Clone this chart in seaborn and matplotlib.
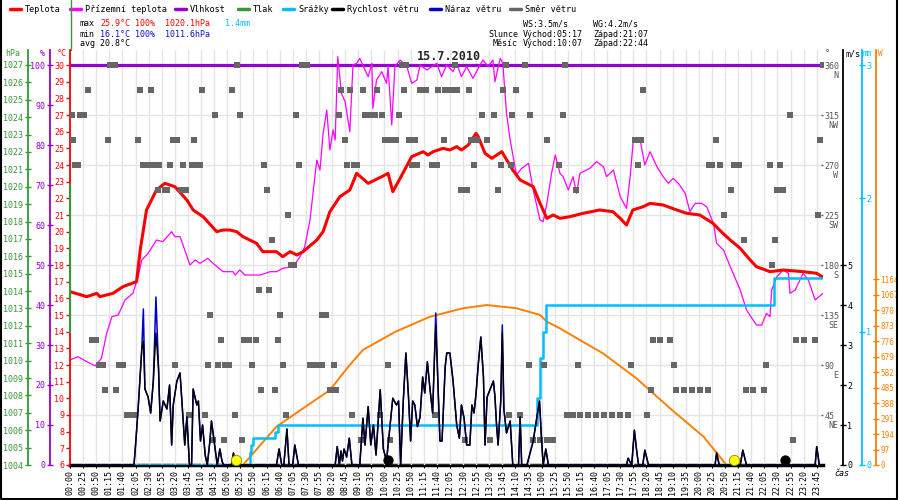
import numpy as np
import pandas as pd
import matplotlib
matplotlib.use("Agg")
import matplotlib.pyplot as plt
from matplotlib.lines import Line2D
import seaborn as sns

# ---- data (time in minutes after midnight) ----
temp_t = [0, 32, 51, 57, 82, 101, 127, 134, 146, 165, 181, 200, 223, 235, 254, 280, 292, 305, 318,
          330, 356, 368, 394, 406, 420, 433, 445, 471, 483, 496, 515, 534, 547, 569, 595, 607, 616,
          630, 652, 674, 683, 693, 712, 725, 738, 747, 760, 775, 779, 792, 805, 824, 845, 859, 884,
          897, 910, 922, 935, 954, 979, 1011, 1036, 1050, 1062, 1074, 1094, 1107, 1132, 1158, 1177,
          1202, 1227, 1246, 1260, 1279, 1298, 1310, 1336, 1361, 1399, 1425, 1435]
temp_v = [16.4, 16.1, 16.3, 16.1, 16.3, 16.7, 17.0, 18.9, 21.3, 22.5, 22.9, 22.7, 21.9, 21.3, 20.9,
          20.0, 20.1, 20.1, 20.0, 19.7, 19.3, 18.8, 18.8, 18.5, 18.8, 18.6, 18.8, 19.5, 20.0, 21.2,
          22.1, 22.5, 23.5, 22.9, 23.3, 23.5, 22.4, 23.2, 24.5, 24.8, 24.6, 24.8, 25.0, 24.9, 25.1,
          24.9, 25.2, 25.9, 25.7, 24.7, 24.4, 24.8, 23.7, 23.1, 22.7, 21.7, 20.8, 21.0, 20.8, 20.9,
          21.1, 21.3, 21.2, 20.8, 20.4, 21.3, 21.5, 21.7, 21.6, 21.3, 21.1, 21.0, 20.5, 19.9, 19.5,
          19.0, 18.3, 17.9, 17.6, 17.7, 17.6, 17.5, 17.3]

ground_t = [0, 15, 38, 48, 60, 70, 80, 92, 105, 120, 130, 137, 149, 165, 177, 194, 200, 210, 219, 229,
            239, 248, 263, 273, 292, 311, 315, 324, 334, 363, 382, 394, 406, 426, 439, 448, 458, 471,
            477, 483, 490, 496, 502, 506, 511, 518, 525, 534, 540, 547, 553, 560, 569, 576, 578, 585,
            595, 604, 607, 614, 620, 630, 643, 652, 662, 668, 681, 690, 700, 709, 719, 731, 738, 747,
            757, 769, 779, 788, 798, 807, 811, 821, 826, 833, 840, 852, 862, 875, 884, 897, 903, 910,
            919, 926, 935, 941, 951, 960, 967, 973, 992, 1005, 1018, 1024, 1037, 1050, 1062, 1069,
            1075, 1081, 1088, 1097, 1107, 1120, 1132, 1142, 1151, 1161, 1174, 1183, 1193, 1205, 1215,
            1228, 1234, 1247, 1260, 1279, 1291, 1310, 1320, 1329, 1336, 1339, 1349, 1361, 1371, 1374,
            1384, 1399, 1409, 1422, 1437]
ground_v = [12.3, 12.5, 12.1, 11.95, 12.4, 13.9, 14.9, 15.0, 15.9, 16.3, 17.3, 18.3, 18.7, 19.5, 19.4,
            20.0, 19.7, 19.7, 18.9, 18.0, 18.3, 18.1, 18.4, 18.1, 17.6, 17.6, 17.4, 17.7, 17.4, 17.4,
            17.6, 17.6, 17.8, 17.9, 18.5, 19.1, 20.7, 24.3, 23.7, 25.9, 27.3, 24.9, 26.1, 25.5, 30.5,
            28.3, 27.8, 26.0, 30.0, 30.1, 30.4, 29.9, 29.3, 30.1, 27.4, 29.1, 29.6, 28.9, 29.9, 26.4,
            29.9, 30.3, 29.9, 28.9, 29.1, 30.0, 29.7, 29.9, 30.1, 29.3, 30.0, 29.6, 30.1, 29.3, 29.9,
            29.2, 29.8, 30.3, 29.9, 30.3, 29.0, 30.4, 30.1, 27.1, 25.5, 23.4, 23.8, 24.1, 22.5, 20.7,
            20.6, 21.7, 23.5, 24.6, 23.5, 23.3, 22.5, 23.3, 22.3, 23.5, 23.8, 24.2, 23.9, 23.3, 23.7,
            22.1, 21.4, 23.3, 25.5, 25.4, 25.5, 24.0, 24.8, 23.9, 23.3, 22.9, 23.2, 22.9, 22.3, 21.2,
            21.7, 21.7, 21.5, 20.5, 19.3, 18.9, 17.9, 16.5, 15.3, 14.4, 14.4, 15.1, 14.9, 16.5, 17.3,
            17.7, 17.5, 16.3, 16.5, 17.5, 17.1, 15.9, 16.3]

humidity_t = [0, 1437]
humidity_v = [100, 100]

pressure_t = [0, 0]
pressure_v = [1011.6, 1020.1]

rain_t = [124, 343, 346, 349, 391, 396, 891, 897, 903, 908, 1344, 1437]
rain_v = [0.0, 0.1, 0.15, 0.2, 0.25, 0.3, 0.5, 0.8, 1.0, 1.2, 1.4, 1.4]

solar_t = [330, 394, 445, 496, 531, 559, 621, 687, 750, 795, 852, 897, 910, 935, 973, 1017, 1081,
           1145, 1209, 1253]
solar_v = [0, 240, 355, 469, 615, 720, 834, 928, 981, 1001, 981, 939, 897, 855, 782, 699, 542, 355,
           177, 0]

wind_t = [0, 114, 122, 124, 130, 137, 140, 143, 149, 154, 159, 164, 169, 172, 178, 185, 190, 194, 197,
          204, 210, 213, 219, 223, 228, 232, 235, 242, 245, 249, 253, 258, 262, 267, 270, 275, 279,
          281, 286, 290, 293, 308, 312, 315, 394, 399, 404, 408, 414, 418, 425, 429, 436, 506, 510,
          514, 517, 520, 523, 528, 533, 538, 553, 559, 563, 569, 574, 579, 584, 592, 598, 604, 611,
          616, 623, 627, 631, 636, 641, 646, 650, 654, 658, 663, 668, 673, 677, 682, 687, 692, 695,
          698, 702, 706, 710, 716, 719, 725, 731, 738, 743, 747, 752, 757, 763, 767, 771, 775, 779,
          784, 789, 792, 796, 802, 808, 811, 814, 817, 822, 825, 828, 833, 840, 845, 856, 859, 862,
          872, 878, 884, 891, 896, 900, 903, 908, 913, 1062, 1065, 1072, 1077, 1081, 1085, 1093,
          1097, 1104, 1231, 1234, 1239, 1279, 1284, 1291, 1422, 1425, 1430, 1437]
wind_v = [0, 0, 0, 0.3, 1.4, 2.9, 3.1, 1.9, 1.7, 1.3, 2.1, 3.3, 2.4, 1.1, 1.6, 1.4, 2.0, 0.5, 1.5,
          2.1, 2.3, 1.7, 0.5, 1.2, 0, 0, 1.9, 1.5, 1.6, 0.6, 1.0, 0.25, 0, 0.6, 1.1, 0.6, 0.2,
          0, 0.4, 0.1, 0, 0, 0.3, 0, 0, 0.4, 0, 0, 0.9, 0, 0, 0.5, 0, 0, 0.46,
          0, 0.35, 0.1, 0.4, 0.2, 0.67, 0, 0, 1.17, 0.5, 1.46, 0.5, 1.0, 0.25, 1.88, 0.4, 0.1, 1.0,
          1.67, 1.5, 1.6, 0, 1.6, 2.8, 1.7, 0.6, 1.6, 1.5, 0.96, 1.2, 2.2, 1.8, 2.58, 1.9, 1.3, 2.5,
          3.5, 2.1, 0.6, 0.6, 2.46, 2.8, 2.8, 2.1, 1.0, 0.67, 1.5, 1.17, 0.5, 0.5, 1.5, 1.3, 1.8, 2.5,
          3.2, 2.2, 0.5, 1.7, 1.9, 2.1, 1.7, 1.0, 0.5, 1.6, 3.3, 1.4, 0.8, 1.1, 0, 0, 1.2, 0,
          0, 0.3, 0.6, 1.2, 1.6, 0.6, 0, 0.4, 0, 0, 0.17, 0, 0.87, 0.4, 0, 0,
          0.37, 0, 0, 0.3, 0, 0, 0.37, 0, 0, 0.46, 0, 0]

# gust readings that stand above the mean wind
gust_peak_t = [140, 164, 698, 825]
gust_peak_v = [3.9, 4.2, 3.8, 3.5]

dir_t = [76, 86, 318, 442, 452, 633, 642, 735, 832, 868, 945, 1437,
         35, 134, 154, 252, 309, 518, 534, 560, 586, 637, 668, 680, 703, 716, 728, 739, 761, 826, 852, 1093,
         3, 20, 27, 277, 324, 431, 513, 563, 573, 582, 595, 628, 787, 809, 843, 878, 941, 1374,
         6, 73, 130, 196, 205, 237, 525, 601, 612, 622, 647, 658, 714, 766, 776, 795, 911, 1078, 1089, 1232, 1432,
         10, 16, 140, 148, 160, 170, 191, 216, 233, 242, 248, 370, 437, 528, 542, 548, 653, 663, 691, 700,
         771, 822, 841, 934, 1084, 1220, 1226, 1240, 1268, 1277, 1336, 1355,
         167, 181, 186, 211, 221, 376, 747, 757, 816, 965, 1261, 1350, 1360,
         416, 1249, 1427,
         385, 1286, 1345,
         421, 427, 1339,
         361, 380,
         267, 401, 481, 488,
         42, 50, 288, 333, 341, 355, 397, 1113, 1126, 1145, 1386, 1400, 1422,
         55, 63, 94, 102, 201, 263, 282, 296, 304, 347, 406, 458, 466, 474, 480, 504, 607, 875, 904, 970,
         1070, 1152, 1329,
         67, 88, 364, 391, 496, 508, 1109, 1157, 1172, 1187, 1202, 1218, 1291, 1304, 1325,
         108, 116, 123, 227, 258, 315, 412, 539, 592, 696, 838, 859, 948, 959, 973, 988, 1003, 1019,
         1034, 1049, 1065, 1102,
         272, 294, 329, 555, 611, 754, 801, 884, 897, 910, 922, 1380]
dir_deg = ([360] * 12 + [337.5] * 20 + [315] * 18 + [292.5] * 21 + [270] * 32 + [247.5] * 13
           + [225] * 3 + [202.5] * 3 + [180] * 3 + [157.5] * 2 + [135] * 4 + [112.5] * 13
           + [90] * 23 + [67.5] * 15 + [45] * 22 + [22.5] * 12)

sun_t = [317, 1267]     # Slunce východ / západ
moon_t = [607, 1364]    # Měsíc východ / západ

time_ticks = list(range(0, 1436, 25))
time_labels = [f"{t // 60:02d}:{t % 60:02d}" for t in time_ticks]

# ---- colours ----
C_TEMP = "#ff0000"
C_GROUND = "#ff00ff"
C_HUM = "#9400d3"
C_PRESS = "#339933"
C_RAIN = "#00bfff"
C_WIND = "#000000"
C_GUST = "#0000cc"
C_DIR = "#666666"
C_SOLAR = "#ff8000"

sns.set_theme(style="white")
plt.rcParams['font.family'] = ['DejaVu Sans Mono', 'DejaVu Sans']
FS = 6

W, H = 900, 500
fig = plt.figure(figsize=(9, 5), dpi=100)


def fx(px):
    return px / W


def fy(py):
    return 1 - py / H


L, R, T, B = 70, 823, 50, 465
XMAX = 1437
base = fig.add_axes([fx(L), fy(B), fx(R - L), (B - T) / H])
base.set_xlim(0, XMAX)
base.set_ylim(0, (B - T) / 50)
base.set_yticks(range(0, 9))
base.set_yticklabels([])
base.set_xticks(time_ticks)
base.set_xticklabels(time_labels, rotation=90, fontsize=FS)
base.tick_params(axis='x', bottom=True, length=2, width=0.8, pad=1.5, colors='black')
base.tick_params(axis='y', left=False, right=False, length=0)
base.grid(True, color='#e4e4e4', lw=1)
for s in ['left', 'right', 'top']:
    base.spines[s].set_visible(False)
base.spines['bottom'].set_color('black')
base.spines['bottom'].set_linewidth(2.5)
base.spines['bottom'].set_zorder(0)


def make_axis(side, pos, color, lim, ticks, direction='inout', length=5, spine=True, lcolor=None,
              fs=FS, pad=1):
    a = base.twinx()
    a.set_ylim(*lim)
    a.grid(False)
    for s in a.spines.values():
        s.set_visible(False)
    if side == 'left':
        a.yaxis.tick_left()
        a.tick_params(axis='y', left=True, right=False, labelleft=True, labelright=False)
    else:
        a.yaxis.tick_right()
        a.tick_params(axis='y', left=False, right=True, labelleft=False, labelright=True)
    a.spines[side].set_position(('axes', pos))
    a.spines[side].set_visible(spine)
    a.spines[side].set_color(color)
    a.spines[side].set_linewidth(1.3)
    a.set_yticks(ticks)
    a.tick_params(axis='y', direction=direction, length=length, width=1, pad=pad,
                  labelsize=fs, color=color, labelcolor=lcolor or color)
    return a


span = R - L
ax_hum = make_axis('left', (50 - L) / span, C_HUM, (0, 100 + 15 * 100 / 400), range(0, 101, 10))
ax_temp = make_axis('left', 0, C_TEMP, (6, 30 + 15 * 24 / 400), range(6, 31), direction='out', length=3)
ax_press = make_axis('left', (28 - L) / span, C_PRESS, (1004, 1027 + 15 * 23 / 400), range(1004, 1028))
ax_sol = make_axis('right', (876 - L) / span, C_SOLAR, (0, 1164 * 415 / 186), range(0, 1165, 97),
                   fs=5.5, pad=0.5)
ax_mm = make_axis('right', (862 - L) / span, C_RAIN, (0, 3 + 15 * 3 / 400), range(0, 4), pad=0.5)
ax_deg = make_axis('right', 1.0, C_DIR, (0, 360 + 15 * 360 / 400), range(45, 361, 45),
                   direction='in', length=1.5, spine=False, lcolor='#555555')
ax_ms = make_axis('right', (843 - L) / span, C_WIND, (0, 10 + 15 * 10 / 400), range(0, 6), pad=0.5)

# ---- series ----
sns.lineplot(x=humidity_t, y=humidity_v, ax=ax_hum, color=C_HUM, lw=2.3)
sns.lineplot(x=ground_t, y=ground_v, ax=ax_temp, color=C_GROUND, lw=0.9, estimator=None)
sns.lineplot(x=temp_t, y=temp_v, ax=ax_temp, color=C_TEMP, lw=2.2, estimator=None)
sns.lineplot(x=pressure_t, y=pressure_v, ax=ax_press, color=C_PRESS, lw=1.5,
             estimator=None, sort=False, clip_on=False)
sns.lineplot(x=solar_t, y=solar_v, ax=ax_sol, color=C_SOLAR, lw=1.4, estimator=None)
sns.lineplot(x=rain_t, y=rain_v, ax=ax_mm, color=C_RAIN, lw=1.8, estimator=None,
             drawstyle='steps-post')
sns.scatterplot(x=dir_t, y=dir_deg, ax=ax_deg, color=C_DIR, linewidth=0, s=20,
                marker=[(-3, -2.5), (3, -2.5), (3, 2.5), (-3, 2.5)])

gust = pd.Series(wind_v, index=wind_t, dtype=float)
gust.loc[gust_peak_t] = gust_peak_v
sns.lineplot(x=gust.index, y=gust.values, ax=ax_ms, color=C_GUST, lw=1.1, estimator=None)
sns.lineplot(x=wind_t, y=wind_v, ax=ax_ms, color=C_WIND, lw=1.0, estimator=None)
sns.scatterplot(x=sun_t, y=[0.12, 0.12], ax=ax_ms, color='#ffff00', edgecolor='#8a8a00',
                linewidth=0.6, s=55, zorder=5, clip_on=False)
sns.scatterplot(x=moon_t, y=[0.12, 0.12], ax=ax_ms, color='black', linewidth=0, s=55,
                zorder=5, clip_on=False)

for a in [ax_hum, ax_temp, ax_press, ax_sol, ax_mm, ax_deg, ax_ms]:
    a.set_xlim(0, XMAX)
    a.set_ylabel('')
    if a.get_legend():
        a.get_legend().remove()

# compass letters under the degree labels
for d, name in zip(range(360, 44, -45), ['N', 'NW', 'W', 'SW', 'S', 'SE', 'E', 'NE']):
    ax_deg.text((838 - L) / span, d - 9.5, name, transform=ax_deg.get_yaxis_transform(),
                ha='right', va='center', fontsize=FS, color='#555555', clip_on=False)

# axis unit labels
for px, txt, col in [(5, 'hPa', C_PRESS), (40, '%', C_HUM), (57, '°C', C_TEMP), (825, '°', '#555555'),
                     (845, 'm/s', 'black'), (863, 'mm', C_RAIN), (878, 'W', C_SOLAR)]:
    fig.text(fx(px), fy(54), txt, fontsize=FS if px < 860 else 5.5, color=col, ha='left', va='center')
fig.text(fx(834), fy(474), 'čas', fontsize=FS, color='black', ha='left', va='center', style='italic')

# ---- header: legend ----
legend_items = [(10, 'Teplota', C_TEMP), (70, 'Přízemní teplota', C_GROUND), (175, 'Vlhkost', C_HUM),
                (238, 'Tlak', C_PRESS), (283, 'Srážky', C_RAIN), (332, 'Rychlost větru', C_WIND),
                (430, 'Náraz větru', C_GUST), (510, 'Směr větru', C_DIR)]
for px, txt, col in legend_items:
    fig.add_artist(Line2D([fx(px), fx(px + 11)], [fy(9), fy(9)], color=col, lw=2.5))
    fig.text(fx(px + 15), fy(9), txt, fontsize=6.1, color='black', ha='left', va='center')

# ---- header: statistics ----
stats = [(80, 24, 'max', 'black'), (100, 24, '25.9°C', C_TEMP), (135, 24, '100%', C_TEMP),
         (165, 24, '1020.1hPa', C_TEMP), (225, 24, '1.4mm', C_RAIN),
         (80, 34, 'min', 'black'), (100, 34, '16.1°C', '#1010d0'), (135, 34, '100%', '#1010d0'),
         (165, 34, '1011.6hPa', '#1010d0'),
         (80, 44, 'avg 20.8°C', 'black'),
         (523, 24, 'WS:3.5m/s', 'black'), (593, 24, 'WG:4.2m/s', 'black'),
         (488, 34, 'Slunce', 'black'), (523, 34, 'Východ:05:17', 'black'), (593, 34, 'Západ:21:07', 'black'),
         (493, 44, 'Měsíc', 'black'), (523, 44, 'Východ:10:07', 'black'), (593, 44, 'Západ:22:44', 'black')]
for px, py, txt, col in stats:
    fig.text(fx(px), fy(py), txt, fontsize=FS, color=col, ha='left', va='center')

fig.text(fx(449), fy(57), '15.7.2010', fontsize=8.5, fontweight='bold', ha='center', va='center')

# separator above the plot and outer frame
fig.add_artist(Line2D([fx(71), fx(71)], [fy(0), fy(T)], color=C_PRESS, lw=1))
fig.add_artist(Line2D([fx(0.7), fx(0.7), fx(897), fx(897)], [fy(0), fy(498.5), fy(498.5), fy(0)],
                      color='black', lw=1.5))

fig.savefig('out.png', dpi=100)
